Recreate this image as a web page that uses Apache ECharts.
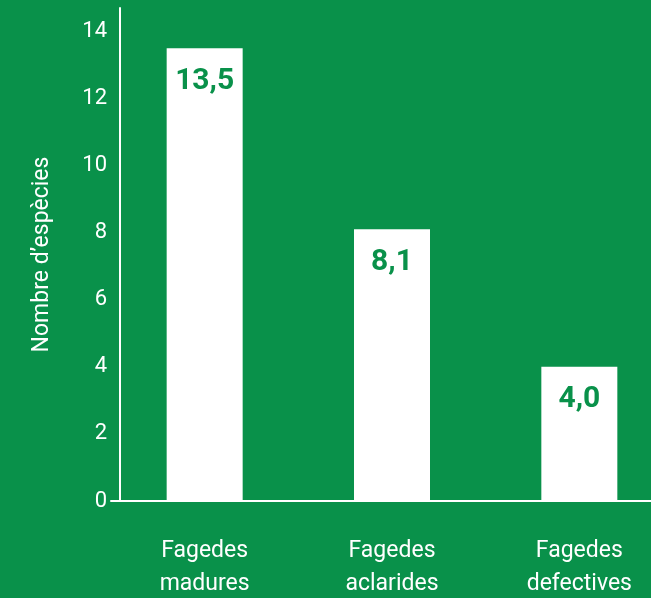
<!DOCTYPE html>
<html>
<head>
<meta charset="utf-8">
<script src="https://cdn.jsdelivr.net/npm/echarts@6/dist/echarts.min.js"></script>
<style>
html,body{margin:0;padding:0;background:#09914a;}
#chart{width:651px;height:598px;}
</style>
</head>
<body>
<div id="chart"></div>
<script>
var categories = ['Fagedes\nmadures', 'Fagedes\naclarides', 'Fagedes\ndefectives'];
var values = [13.5, 8.1, 4.0];
var yTicks = [0, 2, 4, 6, 8, 10, 12, 14];
var yAxisName = 'Nombre d\u2019espècies';

var green = '#09914a';
var chart = echarts.init(document.getElementById('chart'));
chart.setOption({
  backgroundColor: green,
  animation: false,
  grid: { left: 111, top: 8, right: -22, bottom: 97, containLabel: false, outerBoundsMode: 'none' },
  xAxis: {
    type: 'category',
    data: categories,
    axisLine: { show: true, lineStyle: { color: '#ffffff', width: 2 } },
    axisTick: { show: false },
    axisLabel: {
      color: '#ffffff', fontFamily: 'Roboto', fontSize: 23, lineHeight: 33,
      margin: 34, interval: 0
    }
  },
  yAxis: {
    type: 'value',
    min: 0, max: 14.7, interval: 2,
    offset: -9,
    name: yAxisName,
    nameLocation: 'middle',
    nameGap: 66,
    nameRotate: 90,
    nameTextStyle: { color: '#ffffff', fontFamily: 'Roboto', fontSize: 23 },
    axisLine: { show: true, lineStyle: { color: '#ffffff', width: 2 } },
    axisTick: { show: false },
    splitLine: { show: false },
    axisLabel: {
      color: '#ffffff', fontFamily: 'Roboto', fontSize: 22, margin: 13,
      padding: [0, 0, 10, 0],
      formatter: function (v) { return yTicks.indexOf(v) >= 0 ? String(v) : ''; }
    }
  },
  series: [{
    type: 'bar',
    data: values,
    barWidth: 76,
    itemStyle: { color: '#ffffff' },
    label: {
      show: true,
      position: 'insideTop',
      distance: 18,
      color: green,
      fontFamily: 'Roboto',
      fontWeight: 'bold',
      fontSize: 30,
      formatter: function (p) { return p.value.toFixed(1).replace('.', ','); }
    }
  }]
});
</script>
</body>
</html>
